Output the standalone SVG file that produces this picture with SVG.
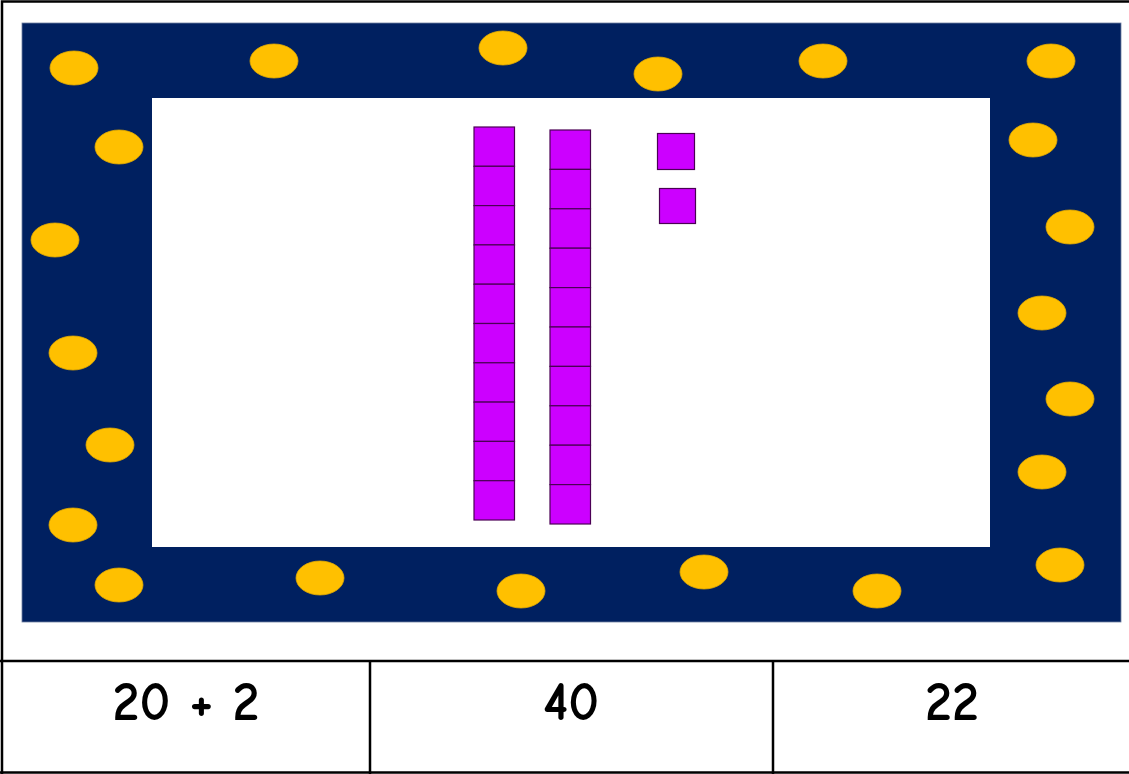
<svg xmlns="http://www.w3.org/2000/svg" width="1129" height="774" viewBox="0 0 1129 774">
<defs>
<style>
.dot{fill:#FFC000;stroke:#E0A800;stroke-width:0.8}
.cell{fill:#CC00FF;stroke:#4B0055;stroke-width:1.2}
.line{stroke:#000;stroke-width:2.5;fill:none}
.lbl{font-family:"Comic Neue","Liberation Sans",sans-serif;font-size:54px;font-weight:bold;fill:#000;text-anchor:middle}
</style>
</defs>
<rect x="0" y="0" width="1129" height="774" fill="#fff"/>
<g id="frame">
<path class="line" d="M2,774 V1.5 H1129"/>
<path class="line" d="M0,661 H1129 M370,661 V774 M773,661 V774 M0,772.5 H1129"/>
</g>
<g id="border">
<rect x="22" y="23" width="1099" height="599" fill="#002060" stroke="#6F7FA0" stroke-width="0.8"/>
<rect x="152" y="98" width="838" height="449" fill="#fff"/>
<ellipse class="dot" cx="74" cy="68" rx="24" ry="17"/>
<ellipse class="dot" cx="274" cy="61" rx="24" ry="17"/>
<ellipse class="dot" cx="503" cy="48" rx="24" ry="17"/>
<ellipse class="dot" cx="658" cy="74" rx="24" ry="17"/>
<ellipse class="dot" cx="823" cy="61" rx="24" ry="17"/>
<ellipse class="dot" cx="1051" cy="61" rx="24" ry="17"/>
<ellipse class="dot" cx="119" cy="147" rx="24" ry="17"/>
<ellipse class="dot" cx="55" cy="240" rx="24" ry="17"/>
<ellipse class="dot" cx="73" cy="353" rx="24" ry="17"/>
<ellipse class="dot" cx="110" cy="445" rx="24" ry="17"/>
<ellipse class="dot" cx="73" cy="525" rx="24" ry="17"/>
<ellipse class="dot" cx="119" cy="585" rx="24" ry="17"/>
<ellipse class="dot" cx="320" cy="578" rx="24" ry="17"/>
<ellipse class="dot" cx="521" cy="591" rx="24" ry="17"/>
<ellipse class="dot" cx="704" cy="572" rx="24" ry="17"/>
<ellipse class="dot" cx="877" cy="591" rx="24" ry="17"/>
<ellipse class="dot" cx="1033" cy="140" rx="24" ry="17"/>
<ellipse class="dot" cx="1070" cy="227" rx="24" ry="17"/>
<ellipse class="dot" cx="1042" cy="313" rx="24" ry="17"/>
<ellipse class="dot" cx="1070" cy="399" rx="24" ry="17"/>
<ellipse class="dot" cx="1042" cy="472" rx="24" ry="17"/>
<ellipse class="dot" cx="1060" cy="565" rx="24" ry="17"/>
</g>
<g id="ten1">
<rect class="cell" x="474" y="127" width="40.5" height="39.3"/>
<rect class="cell" x="474" y="166.3" width="40.5" height="39.3"/>
<rect class="cell" x="474" y="205.6" width="40.5" height="39.3"/>
<rect class="cell" x="474" y="244.9" width="40.5" height="39.3"/>
<rect class="cell" x="474" y="284.2" width="40.5" height="39.3"/>
<rect class="cell" x="474" y="323.5" width="40.5" height="39.3"/>
<rect class="cell" x="474" y="362.8" width="40.5" height="39.3"/>
<rect class="cell" x="474" y="402.1" width="40.5" height="39.3"/>
<rect class="cell" x="474" y="441.4" width="40.5" height="39.3"/>
<rect class="cell" x="474" y="480.7" width="40.5" height="39.3"/>
</g>
<g id="ten2">
<rect class="cell" x="550" y="130" width="40.5" height="39.4"/>
<rect class="cell" x="550" y="169.4" width="40.5" height="39.4"/>
<rect class="cell" x="550" y="208.8" width="40.5" height="39.4"/>
<rect class="cell" x="550" y="248.2" width="40.5" height="39.4"/>
<rect class="cell" x="550" y="287.6" width="40.5" height="39.4"/>
<rect class="cell" x="550" y="327" width="40.5" height="39.4"/>
<rect class="cell" x="550" y="366.4" width="40.5" height="39.4"/>
<rect class="cell" x="550" y="405.8" width="40.5" height="39.4"/>
<rect class="cell" x="550" y="445.2" width="40.5" height="39.4"/>
<rect class="cell" x="550" y="484.6" width="40.5" height="39.4"/>
</g>
<g id="one1"><rect class="cell" x="657.5" y="133.5" width="37" height="36"/></g>
<g id="one2"><rect class="cell" x="659.5" y="188.5" width="36" height="35"/></g>
<g id="labels">
<text class="lbl" x="186" y="720">20 + 2</text>
<text class="lbl" x="571" y="720">40</text>
<text class="lbl" x="952" y="720">22</text>
</g>
</svg>
